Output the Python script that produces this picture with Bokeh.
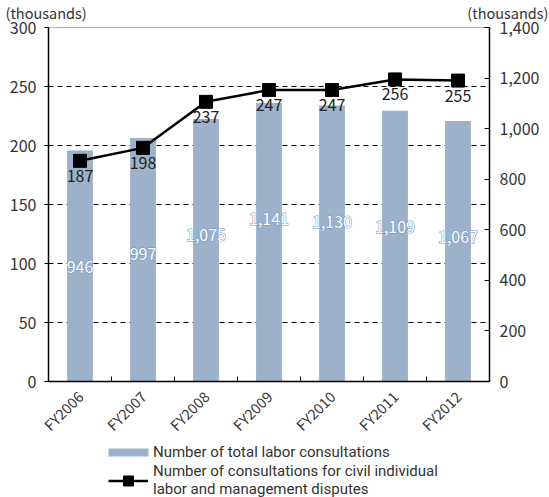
from math import pi
from bokeh.plotting import figure
from bokeh.models import (Range1d, LinearAxis, FixedTicker, ColumnDataSource,
                          Legend, LegendItem, NumeralTickFormatter, BoxAnnotation)
from bokeh.core.properties import value
from bokeh.embed import file_html
from bokeh.resources import INLINE

# ---------------- data ----------------
years = ["FY2006", "FY2007", "FY2008", "FY2009", "FY2010", "FY2011", "FY2012"]
total_consultations = [946, 997, 1075, 1141, 1130, 1109, 1067]   # thousands (right axis)
civil_disputes = [187, 198, 237, 247, 247, 256, 255]            # thousands (left axis)
left_ticks = [0, 50, 100, 150, 200, 250, 300]
right_ticks = [0, 200, 400, 600, 800, 1000, 1200, 1400]
unit_text = "(thousands)"
legend_bar = "Number of total labor consultations"
legend_line = "Number of consultations for civil individual\nlabor and management disputes"

FONT = "Noto Sans CJK JP"
LFONT = "Roboto"
TXT = "#333333"
BAR = "#9CB1CA"

# ---------------- canvas geometry (pixels) ----------------
W, H = 549, 497
PL, PR, PT, PB = 48, 489, 27, 381          # plot-area box inside the canvas
n = len(years)
L_MAX, R_MAX, B_MAX = left_ticks[-1], right_ticks[-1], 1450

upx = n / (PR - PL)                 # x data units per pixel
upy = L_MAX / (PB - PT)             # left-axis units per pixel
y0, y1 = -(H - PB) * upy, L_MAX + PT * upy


def scaled(top):
    k = top / L_MAX
    return Range1d(y0 * k, y1 * k)


xs = [i + 0.5 for i in range(n)]
src = ColumnDataSource(dict(
    x=xs,
    total=total_consultations,
    disputes=civil_disputes,
    total_txt=[f"{v:,}" for v in total_consultations],
    disp_txt=[str(v) for v in civil_disputes],
))

p = figure(width=W, height=H,
           x_range=Range1d(-PL * upx, n + (W - PR) * upx),
           y_range=Range1d(y0, y1),
           output_backend="svg", toolbar_location=None, min_border=0)
p.extra_y_ranges = {"right": scaled(R_MAX), "bars": scaled(B_MAX)}
p.outline_line_color = None
p.background_fill_color = "white"
p.border_fill_color = "white"
p.xgrid.visible = False
p.ygrid.visible = False

# dashed horizontal grid lines across the plot area only
grid_vals = left_ticks[1:-1]
p.segment(x0=[0] * len(grid_vals), x1=[n] * len(grid_vals), y0=grid_vals, y1=grid_vals,
          line_color="black", line_dash="5 4", line_width=1)

# left axis
ya = p.yaxis[0]
ya.fixed_location = 0
ya.bounds = (0, L_MAX)
ya.ticker = FixedTicker(ticks=left_ticks)
ya.major_tick_out = 4
ya.major_tick_in = 0
ya.minor_tick_line_color = None
ya.axis_line_color = "black"
ya.axis_line_width = 1.5
ya.major_label_text_font = FONT
ya.major_label_text_font_size = "16px"
ya.major_label_text_color = TXT
ya.major_label_standoff = 8

# right axis
ra = LinearAxis(y_range_name="right", ticker=FixedTicker(ticks=right_ticks),
                formatter=NumeralTickFormatter(format="0,0"), fixed_location=n,
                bounds=(0, R_MAX))
ra.major_tick_out = 0
ra.major_tick_in = 5
ra.minor_tick_line_color = None
ra.axis_line_color = "black"
ra.axis_line_width = 1.5
ra.major_label_text_font = FONT
ra.major_label_text_font_size = "16px"
ra.major_label_text_color = TXT
ra.major_label_standoff = 10
p.add_layout(ra, "right")

# x axis
xa = p.xaxis[0]
xa.fixed_location = 0
xa.bounds = (0, n)
xa.ticker = FixedTicker(ticks=xs, minor_ticks=list(range(n + 1)))
xa.major_label_overrides = dict(zip(xs, years))
xa.major_tick_line_color = None
xa.minor_tick_in = 5
xa.minor_tick_out = 0
xa.minor_tick_line_color = "black"
xa.axis_line_color = "black"
xa.axis_line_width = 1.5
xa.major_label_orientation = pi / 4
xa.major_label_text_font = FONT
xa.major_label_text_font_size = "14.5px"
xa.major_label_text_color = TXT
xa.major_label_standoff = 6

# top border of the plot box
p.add_layout(BoxAnnotation(left=0, right=n, bottom=0, top=L_MAX, fill_alpha=0,
                           line_color="black", line_width=1, level="underlay"))

# bars + labels (white text with a thin blue outline)
bars = p.vbar(x="x", top="total", width=0.41, y_range_name="bars",
              fill_color=BAR, line_color=None, source=src)
for outline in ("#6F93C2", None):
    p.text(x="x", y="total", text="total_txt", y_range_name="bars", source=src,
           y_offset=116, text_align="center", text_baseline="middle",
           text_color="white", text_outline_color=outline,
           text_font=value(FONT), text_font_size="16px")

# line + labels
ln = p.line(x="x", y="disputes", line_color="black", line_width=2.5, source=src)
mk = p.scatter(x="x", y="disputes", marker="square", size=13,
               fill_color="black", line_color="black", source=src)
p.text(x="x", y="disputes", text="disp_txt", source=src,
       y_offset=9, text_align="center", text_baseline="top",
       text_color="#222222", text_font=value(FONT), text_font_size="16px")

# unit labels above each axis
p.text(x=[0, n], y=[L_MAX, L_MAX], text=[unit_text, unit_text],
       x_offset=[-43, W - PR - 1], y_offset=-15,
       text_align=["left", "right"], text_baseline="middle",
       text_font=value(FONT), text_font_size="14.5px", text_color=TXT)

# legends (screen px from the canvas bottom-left)
leg1 = Legend(items=[LegendItem(label=legend_bar, renderers=[bars])],
              location=(103, 36), glyph_width=50, glyph_height=10,
              label_text_font=LFONT, label_text_font_size="15px", label_text_color=TXT,
              border_line_color=None, background_fill_alpha=0, padding=0,
              margin=0, label_standoff=0, label_height=17)
leg2 = Legend(items=[LegendItem(label=legend_line, renderers=[ln, mk])],
              location=(108, -1), glyph_width=40, glyph_height=25,
              label_text_font=LFONT, label_text_font_size="15px", label_text_color=TXT,
              border_line_color=None, background_fill_alpha=0, padding=0,
              margin=0, label_standoff=5, label_height=17)
p.add_layout(leg1)
p.add_layout(leg2)

open("out.html", "w").write(file_html(p, INLINE))
